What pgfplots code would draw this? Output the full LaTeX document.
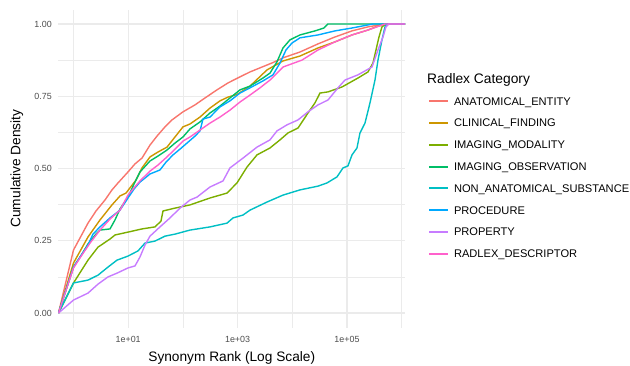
\documentclass[border=0pt]{standalone}
\usepackage{fontspec}
\setmainfont{Liberation Sans}
\usepackage{pgfplots}
\pgfplotsset{compat=1.18}
\definecolor{colAE}{RGB}{248,118,109}
\definecolor{colCF}{RGB}{205,150,0}
\definecolor{colIM}{RGB}{124,174,0}
\definecolor{colIO}{RGB}{0,190,103}
\definecolor{colNA}{RGB}{0,191,196}
\definecolor{colPR}{RGB}{0,169,255}
\definecolor{colPY}{RGB}{199,124,255}
\definecolor{colRD}{RGB}{255,97,204}
\definecolor{gridc}{RGB}{235,235,235}
\definecolor{tickc}{RGB}{77,77,77}
\begin{document}
\begin{tikzpicture}
\useasboundingbox (0,0) rectangle (630pt,365pt);
\begin{axis}[
  at={(58.5pt,37.5pt)}, anchor=south west,
  scale only axis, width=346.5pt, height=318pt,
  xmode=log, xmin=0.532, xmax=1.15e6, ymin=-0.05, ymax=1.05,
  axis line style={draw=none},
  major tick length=0pt, minor tick length=0pt,
  xtick={10,1000,100000}, xticklabels={1e+01,1e+03,1e+05},
  minor xtick={1,100,10000,1000000},
  ytick={0,0.25,0.5,0.75,1}, yticklabels={0.00,0.25,0.50,0.75,1.00},
  minor ytick={0.125,0.375,0.625,0.875},
  grid=both,
  major grid style={color=gridc, line width=1.1pt},
  minor grid style={color=gridc, line width=0.55pt},
  xticklabel style={font=\fontsize{8.9}{10}\selectfont, text=tickc, anchor=base, inner sep=0pt, yshift=-14.7pt},
  yticklabel style={font=\fontsize{8.9}{10}\selectfont, text=tickc, anchor=east, inner sep=0pt, xshift=-6.5pt},
  xlabel={Synonym Rank (Log Scale)}, ylabel={Cumulative Density},
  xlabel style={font=\fontsize{13.7}{15}\selectfont, at={(axis description cs:0.5,-0.1069)}, anchor=base, inner sep=0pt},
  ylabel style={font=\fontsize{13.7}{15}\selectfont, at={(axis description cs:-0.1102,0.5)}, anchor=base, inner sep=0pt, rotate=0},
  legend style={at={(1.0664,0.7248)}, anchor=north west, draw=none, fill=none, inner sep=0pt, outer sep=0pt,
    row sep=11.8pt, font=\fontsize{11.1}{13}\selectfont,
    nodes={inner sep=0pt, text height=8pt, text depth=2pt, anchor=base west},
    /tikz/every odd column/.append style={column sep=5pt}},
  legend cell align=left,
  legend image code/.code={\draw[#1, line width=2pt] (0pt,3.75pt) -- (19pt,3.75pt);},
  every axis plot/.append style={line width=1.4pt, no marks},
]
% ANATOMICAL_ENTITY
\addplot[draw=colAE] coordinates {
(0.532,0) (1,0.218) (1.371,0.266) (1.841,0.311) (2.578,0.353) (3.766,0.391) (5.057,0.426) (6.510,0.450) (9.917,0.488) (13.32,0.516) (17.88,0.536) (25.03,0.581) (33.61,0.612) (47.08,0.644) (63.21,0.668) (100.4,0.696) (166.4,0.720) (253.6,0.744) (420.3,0.772) (667.8,0.796) (1107,0.817) (1686,0.834) (2794,0.851) (4256,0.865) (7054,0.884) (13830,0.903) (29510,0.931) (60370,0.955) (123500,0.976) (242200,0.990) (401300,0.997) (562000,1) (1150000,1)};
\addlegendentry{ANATOMICAL\_ENTITY}
% CLINICAL_FINDING
\addplot[draw=colCF] coordinates {
(0.532,0) (1,0.173) (1.841,0.263) (3.052,0.322) (5.057,0.374) (7.083,0.405) (9.116,0.415) (10.79,0.433) (13.89,0.460) (17.88,0.502) (25.03,0.540) (35.06,0.557) (51.22,0.574) (71.72,0.609) (100.4,0.644) (134.9,0.654) (205.5,0.678) (313.0,0.709) (476.9,0.734) (667.8,0.747) (975.2,0.756) (1686,0.785) (3448,0.841) (6765,0.872) (13830,0.889) (29510,0.917) (60370,0.938) (123500,0.962) (242200,0.979) (339100,0.990) (516600,1) (1150000,1)};
\addlegendentry{CLINICAL\_FINDING}
% IMAGING_MODALITY
\addplot[draw=colIM] coordinates {
(0.532,0) (1,0.104) (1.841,0.183) (2.805,0.228) (4.649,0.256) (5.738,0.270) (9.917,0.280) (17.88,0.291) (30.90,0.298) (39.78,0.318) (43.27,0.353) (71.72,0.363) (134.9,0.374) (313.0,0.398) (640.3,0.415) (975.2,0.450) (1486,0.505) (2263,0.547) (3912,0.571) (5962,0.599) (8347,0.623) (12720,0.640) (19370,0.692) (26010,0.727) (32100,0.761) (44960,0.765) (81050,0.782) (158900,0.813) (242200,0.834) (298800,0.865) (339100,0.910) (384700,0.955) (436500,0.990) (516600,1) (1150000,1)};
\addlegendentry{IMAGING\_MODALITY}
% IMAGING_OBSERVATION
\addplot[draw=colIO] coordinates {
(0.532,0) (1,0.159) (1.430,0.204) (1.841,0.239) (2.578,0.273) (3.052,0.287) (4.649,0.291) (5.738,0.322) (7.083,0.360) (9.917,0.401) (12.77,0.446) (16.44,0.488) (25.03,0.526) (35.06,0.543) (51.22,0.564) (71.72,0.588) (100.4,0.609) (134.9,0.637) (205.5,0.661) (313.0,0.692) (476.9,0.716) (726.3,0.744) (1107,0.772) (1686,0.785) (2913,0.813) (3912,0.830) (5253,0.869) (6765,0.917) (9081,0.945) (13830,0.962) (26010,0.976) (37980,0.986) (44960,1) (1150000,1)};
\addlegendentry{IMAGING\_OBSERVATION}
% NON_ANATOMICAL_SUBSTANCE
\addplot[draw=colNA] coordinates {
(0.532,0) (1,0.104) (1.841,0.114) (2.805,0.131) (4.273,0.159) (6.243,0.183) (9.917,0.197) (15.11,0.215) (20.29,0.242) (30.90,0.249) (47.08,0.266) (71.72,0.273) (134.9,0.287) (313.0,0.298) (640.3,0.311) (824.0,0.329) (1256,0.339) (1686,0.356) (3448,0.384) (6765,0.408) (13830,0.426) (29510,0.439) (43110,0.450) (65680,0.471) (84530,0.502) (104300,0.509) (123500,0.547) (152400,0.571) (172900,0.623) (213400,0.657) (263400,0.727) (325100,0.806) (368900,0.875) (436500,0.945) (495300,0.990) (538800,1) (1150000,1)};
\addlegendentry{NON\_ANATOMICAL\_SUBSTANCE}
% PROCEDURE
\addplot[draw=colPR] coordinates {
(0.532,0) (1,0.159) (1.430,0.204) (1.841,0.235) (2.273,0.273) (3.052,0.298) (4.649,0.329) (7.083,0.356) (9.917,0.398) (12.77,0.429) (16.44,0.453) (25.03,0.481) (38.14,0.495) (49.10,0.522) (65.93,0.547) (88.51,0.567) (118.9,0.588) (166.4,0.612) (205.5,0.630) (233.1,0.671) (313.0,0.678) (476.9,0.713) (726.3,0.734) (1107,0.761) (1686,0.779) (2913,0.803) (4440,0.824) (5962,0.865) (7673,0.910) (9877,0.934) (13830,0.952) (29510,0.962) (60370,0.976) (123500,0.986) (298800,1) (1150000,1)};
\addlegendentry{PROCEDURE}
% PROPERTY
\addplot[draw=colPY] coordinates {
(0.532,0) (1,0.045) (1.841,0.069) (2.805,0.100) (4.273,0.125) (6.243,0.138) (9.917,0.156) (13.32,0.163) (16.44,0.194) (20.29,0.235) (25.03,0.266) (38.14,0.298) (58.10,0.329) (88.51,0.363) (134.9,0.391) (181.0,0.401) (313.0,0.436) (541.0,0.457) (726.3,0.502) (1256,0.536) (2263,0.574) (3912,0.599) (5253,0.630) (8004,0.651) (12720,0.668) (19370,0.696) (29510,0.720) (44960,0.737) (68490,0.779) (91940,0.806) (158900,0.824) (286600,0.851) (368900,0.910) (455300,0.955) (516600,0.990) (586100,1) (1150000,1)};
\addlegendentry{PROPERTY}
% RADLEX_DESCRIPTOR
\addplot[draw=colRD] coordinates {
(0.532,0) (1,0.156) (1.430,0.201) (2.003,0.242) (3.052,0.287) (4.649,0.325) (7.083,0.356) (9.917,0.408) (12.77,0.433) (16.44,0.457) (25.03,0.491) (35.06,0.512) (51.22,0.540) (71.72,0.567) (100.4,0.595) (134.9,0.609) (205.5,0.633) (313.0,0.657) (476.9,0.678) (726.3,0.702) (1107,0.730) (1686,0.754) (2568,0.779) (3912,0.806) (6765,0.851) (15050,0.875) (29510,0.910) (60370,0.938) (123500,0.962) (242200,0.979) (495300,1) (1150000,1)};
\addlegendentry{RADLEX\_DESCRIPTOR}
\end{axis}
\node[anchor=base west, inner sep=0pt, font=\fontsize{13.8}{15}\selectfont] at (427pt,281.1pt) {Radlex Category};
\end{tikzpicture}
\end{document}
